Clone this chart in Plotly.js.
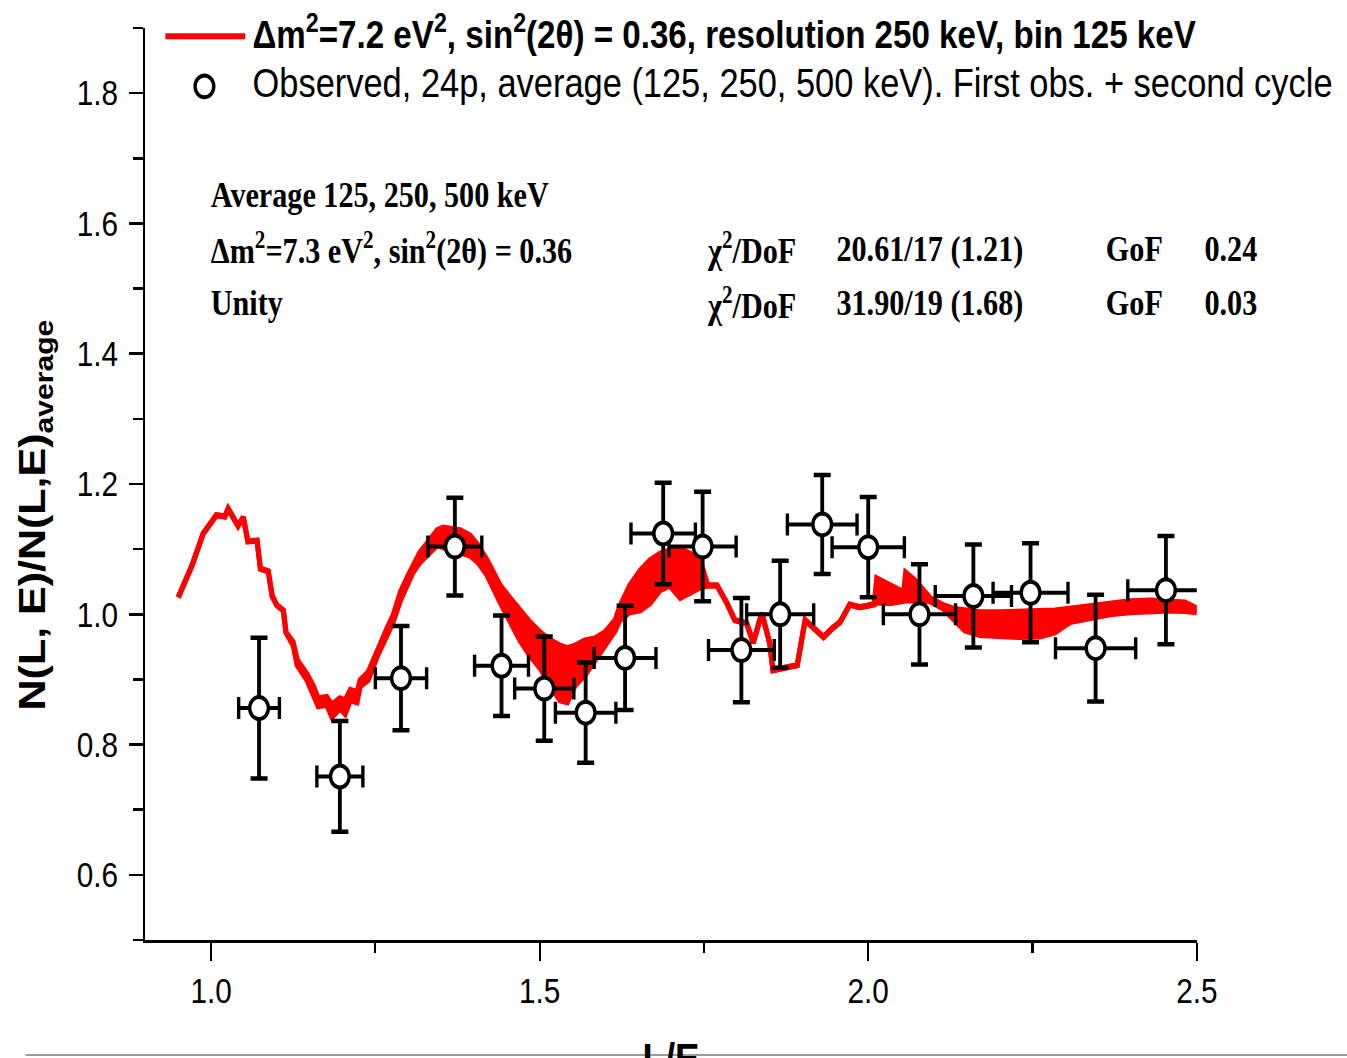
<!DOCTYPE html>
<html>
<head>
<meta charset="utf-8">
<script src="https://cdn.plot.ly/plotly-3.0.1.min.js"></script>
<style>
  html, body { margin: 0; padding: 0; background: #ffffff; overflow: hidden; }
  #chart { width: 1585px; height: 1058px; transform: scaleX(0.85); transform-origin: 0 0; }
</style>
</head>
<body>
<div id="chart"></div>
<script>
// Observed ratio N(L,E)/N(L,E)_average versus L/E, with uncertainties
const obsLE = [1.073, 1.196, 1.289, 1.371, 1.442, 1.507, 1.570, 1.630, 1.688, 1.748,
               1.807, 1.866, 1.930, 2.000, 2.078, 2.160, 2.247, 2.346, 2.453];
const obsRatio = [0.856, 0.751, 0.902, 1.104, 0.921, 0.886, 0.849, 0.933, 1.124, 1.104,
                  0.945, 1.000, 1.138, 1.103, 1.000, 1.028, 1.033, 0.948, 1.037];
const obsRatioErr = [0.108, 0.085, 0.080, 0.075, 0.077, 0.080, 0.077, 0.080, 0.078, 0.084,
                     0.080, 0.082, 0.076, 0.077, 0.077, 0.079, 0.076, 0.082, 0.083];
const obsLEErr = [0.031, 0.035, 0.039, 0.041, 0.041, 0.045, 0.046, 0.047, 0.049, 0.051,
                  0.050, 0.051, 0.053, 0.055, 0.055, 0.058, 0.057, 0.061, 0.058];

// Oscillation model (dm2 = 7.2 eV2, sin2(2theta) = 0.36): upper and lower edge of the
// rapidly oscillating curve at each L/E
const modelLE = [0.950, 0.971, 0.988, 1.003, 1.008, 1.021, 1.026, 1.041, 1.049, 1.056,
  1.070, 1.075, 1.087, 1.093, 1.100, 1.110, 1.114, 1.125, 1.131, 1.146,
  1.155, 1.163, 1.176, 1.184, 1.196, 1.204, 1.212, 1.222, 1.227, 1.239,
  1.253, 1.268, 1.277, 1.288, 1.300, 1.307, 1.318, 1.329, 1.344, 1.353,
  1.364, 1.379, 1.394, 1.406, 1.420, 1.440, 1.455, 1.470, 1.485, 1.501,
  1.516, 1.531, 1.542, 1.554, 1.569, 1.584, 1.599, 1.615, 1.622, 1.637,
  1.653, 1.668, 1.683, 1.698, 1.714, 1.729, 1.744, 1.756, 1.770, 1.785,
  1.797, 1.815, 1.825, 1.838, 1.850, 1.855, 1.892, 1.904, 1.917, 1.932,
  1.946, 1.957, 1.972, 1.987, 2.003, 2.009, 2.013, 2.033, 2.054, 2.057,
  2.071, 2.094, 2.114, 2.132, 2.147, 2.170, 2.200, 2.231, 2.261, 2.284,
  2.307, 2.337, 2.368, 2.398, 2.429, 2.459, 2.482, 2.500];
const modelUpper = [1.026, 1.075, 1.124, 1.143, 1.152, 1.150, 1.162, 1.136, 1.149, 1.112,
  1.113, 1.070, 1.066, 1.028, 1.014, 1.006, 0.972, 0.957, 0.930, 0.908,
  0.891, 0.871, 0.873, 0.861, 0.871, 0.868, 0.884, 0.880, 0.899, 0.911,
  0.945, 0.979, 0.998, 1.034, 1.060, 1.075, 1.095, 1.109, 1.129, 1.133,
  1.132, 1.129, 1.121, 1.106, 1.083, 1.044, 1.025, 1.006, 0.988, 0.972,
  0.960, 0.952, 0.948, 0.952, 0.960, 0.963, 0.972, 0.991, 1.012, 1.044,
  1.067, 1.083, 1.093, 1.098, 1.100, 1.093, 1.083, 1.044, 1.044, 1.017,
  0.991, 0.986, 0.956, 1.002, 0.956, 0.914, 0.922, 0.991, 0.980, 0.965,
  0.979, 0.988, 1.015, 1.011, 1.014, 1.015, 1.055, 1.044, 1.034, 1.064,
  1.052, 1.025, 1.014, 1.008, 1.006, 1.003, 1.003, 1.003, 1.005, 1.006,
  1.009, 1.014, 1.017, 1.020, 1.021, 1.020, 1.018, 1.009];
const modelLower = [1.026, 1.075, 1.124, 1.143, 1.152, 1.150, 1.162, 1.136, 1.149, 1.112,
  1.113, 1.070, 1.066, 1.028, 1.014, 1.006, 0.972, 0.952, 0.922, 0.899,
  0.880, 0.859, 0.861, 0.842, 0.856, 0.847, 0.868, 0.865, 0.890, 0.899,
  0.936, 0.966, 0.988, 1.021, 1.049, 1.064, 1.080, 1.090, 1.106, 1.103,
  1.098, 1.095, 1.090, 1.080, 1.060, 1.018, 0.988, 0.960, 0.937, 0.917,
  0.891, 0.868, 0.865, 0.891, 0.907, 0.930, 0.952, 0.975, 0.991, 1.003,
  1.006, 1.017, 1.037, 1.044, 1.025, 1.032, 1.041, 1.044, 1.044, 1.017,
  0.991, 0.986, 0.956, 1.002, 0.956, 0.914, 0.922, 0.991, 0.980, 0.965,
  0.979, 0.988, 1.015, 1.011, 1.014, 1.015, 1.018, 1.017, 1.021, 1.021,
  1.021, 1.020, 1.009, 0.991, 0.975, 0.968, 0.966, 0.965, 0.966, 0.972,
  0.988, 0.994, 1.000, 1.003, 1.005, 1.006, 1.005, 1.003];

// Axis ticks
const xTicks = [1.0, 1.5, 2.0, 2.5];
const xTickText = ['1.0', '1.5', '2.0', '2.5'];
const yTicks = [0.6, 0.8, 1.0, 1.2, 1.4, 1.6, 1.8];
const yTickText = ['0.6', '0.8', '1.0', '1.2', '1.4', '1.6', '1.8'];

// Text of the legend and the fit summary
const legendModel = '<b>Δm<sup>2</sup>=7.2 eV<sup>2</sup>, sin<sup>2</sup>(2θ) = 0.36, resolution 250 keV, bin 125 keV</b>';
const legendObserved = 'Observed, 24p, average (125, 250, 500 keV). First obs. + second cycle';
const fitRows = [
  ['Average 125, 250, 500 keV', '', '', '', ''],
  ['Δm<sup>2</sup>=7.3 eV<sup>2</sup>, sin<sup>2</sup>(2θ) = 0.36', 'χ<sup>2</sup>/DoF', '20.61/17 (1.21)', 'GoF', '0.24'],
  ['Unity', 'χ<sup>2</sup>/DoF', '31.90/19 (1.68)', 'GoF', '0.03']
];

const RED = '#ff0000';
const SANS = 'Liberation Sans, Arial, Helvetica, sans-serif';
const SERIF = 'Liberation Serif, Times New Roman, serif';

const traces = [
  {
    x: modelLE, y: modelLower, type: 'scatter', mode: 'lines',
    line: { color: RED, width: 6, shape: 'linear' },
    hoverinfo: 'skip', showlegend: false
  },
  {
    x: modelLE, y: modelUpper, type: 'scatter', mode: 'lines',
    line: { color: RED, width: 6, shape: 'linear' },
    fill: 'tonexty', fillcolor: RED,
    hoverinfo: 'skip', showlegend: false
  },
  {
    x: obsLE, y: obsRatio, type: 'scatter', mode: 'markers',
    cliponaxis: false,
    marker: { symbol: 'circle', size: 22, color: '#ffffff', line: { color: '#000000', width: 4 } },
    error_y: { type: 'data', array: obsRatioErr, visible: true, color: '#000000', thickness: 4.5, width: 10 },
    error_x: { type: 'data', array: obsLEErr, visible: true, color: '#000000', thickness: 4, width: 11 },
    showlegend: false
  }
];

// Fit summary columns (paper x of each column's left edge) and rows (paper y)
const colX = [0.0605, 0.533, 0.6555, 0.912, 1.006];
const rowY = [0.817, 0.758, 0.698];

const annotations = [];
fitRows.forEach((row, r) => {
  row.forEach((txt, c) => {
    if (!txt) return;
    annotations.push({
      xref: 'paper', yref: 'paper', x: colX[c], y: rowY[r],
      xanchor: 'left', yanchor: 'middle', showarrow: false,
      text: '<b>' + txt + '</b>',
      font: { family: SERIF, size: 35.5, color: '#000000' }
    });
  });
});

annotations.push(
  {
    xref: 'paper', yref: 'paper', x: 0.1, y: 0.996,
    xanchor: 'left', yanchor: 'middle', showarrow: false,
    text: legendModel, font: { family: SANS, size: 39, color: '#000000' }
  },
  {
    xref: 'paper', yref: 'paper', x: 0.1, y: 0.940,
    xanchor: 'left', yanchor: 'middle', showarrow: false,
    text: legendObserved, font: { family: SANS, size: 40.5, color: '#000000' }
  },
  {
    xref: 'paper', yref: 'paper', x: -0.1047, y: 0.466,
    xanchor: 'center', yanchor: 'middle', showarrow: false, textangle: -90,
    text: '<b>N(L, E)/N(L,E)<sub>average</sub></b>',
    font: { family: SANS, size: 43, color: '#000000' }
  },
  {
    xref: 'paper', yref: 'paper', x: 0.5, y: -0.101,
    xanchor: 'center', yanchor: 'top', showarrow: false,
    text: '<b>L/E</b>',
    font: { family: SANS, size: 43, color: '#000000' }
  }
);

const shapes = [
  // legend line sample
  { type: 'line', xref: 'paper', yref: 'paper', x0: 0.019, x1: 0.095, y0: 0.991, y1: 0.991,
    line: { color: RED, width: 6 } },
  // legend marker sample
  { type: 'circle', xref: 'paper', yref: 'paper', x0: 0.0473, x1: 0.0651, y0: 0.924, y1: 0.948,
    line: { color: '#000000', width: 4 }, fillcolor: '#ffffff' },
  // page rule along the bottom
  { type: 'line', xref: 'paper', yref: 'paper', x0: -0.114, x1: 1.15, y0: -0.126, y1: -0.126,
    line: { color: '#9a9a9a', width: 2 }, layer: 'above' }
];

const layout = {
  width: 1585, height: 1058,
  margin: { l: 171, r: 177, t: 28, b: 118, pad: 0 },
  paper_bgcolor: '#ffffff', plot_bgcolor: '#ffffff',
  showlegend: false,
  xaxis: {
    range: [0.9, 2.5], tickmode: 'array', tickvals: xTicks, ticktext: xTickText,
    showgrid: false, zeroline: false, showline: true, linecolor: '#000000', linewidth: 3,
    ticks: 'outside', ticklen: 18, tickwidth: 2.5, tickcolor: '#000000',
    ticklabelstandoff: 0,
    minor: { tickmode: 'linear', tick0: 1.0, dtick: 0.25, ticks: 'outside', ticklen: 10, tickwidth: 2.5, tickcolor: '#000000', showgrid: false },
    tickfont: { family: SANS, size: 35, color: '#000000' }
  },
  yaxis: {
    range: [0.5, 1.9], tickmode: 'array', tickvals: yTicks, ticktext: yTickText,
    showgrid: false, zeroline: false, showline: true, linecolor: '#000000', linewidth: 3,
    ticks: 'outside', ticklen: 16, tickwidth: 2.5, tickcolor: '#000000',
    ticklabelstandoff: 6,
    minor: { tickmode: 'linear', tick0: 0.5, dtick: 0.1, ticks: 'outside', ticklen: 11, tickwidth: 2.5, tickcolor: '#000000', showgrid: false },
    tickfont: { family: SANS, size: 35, color: '#000000' }
  },
  annotations: annotations,
  shapes: shapes
};

Plotly.newPlot('chart', traces, layout, { displayModeBar: false, staticPlot: true });
</script>
</body>
</html>
